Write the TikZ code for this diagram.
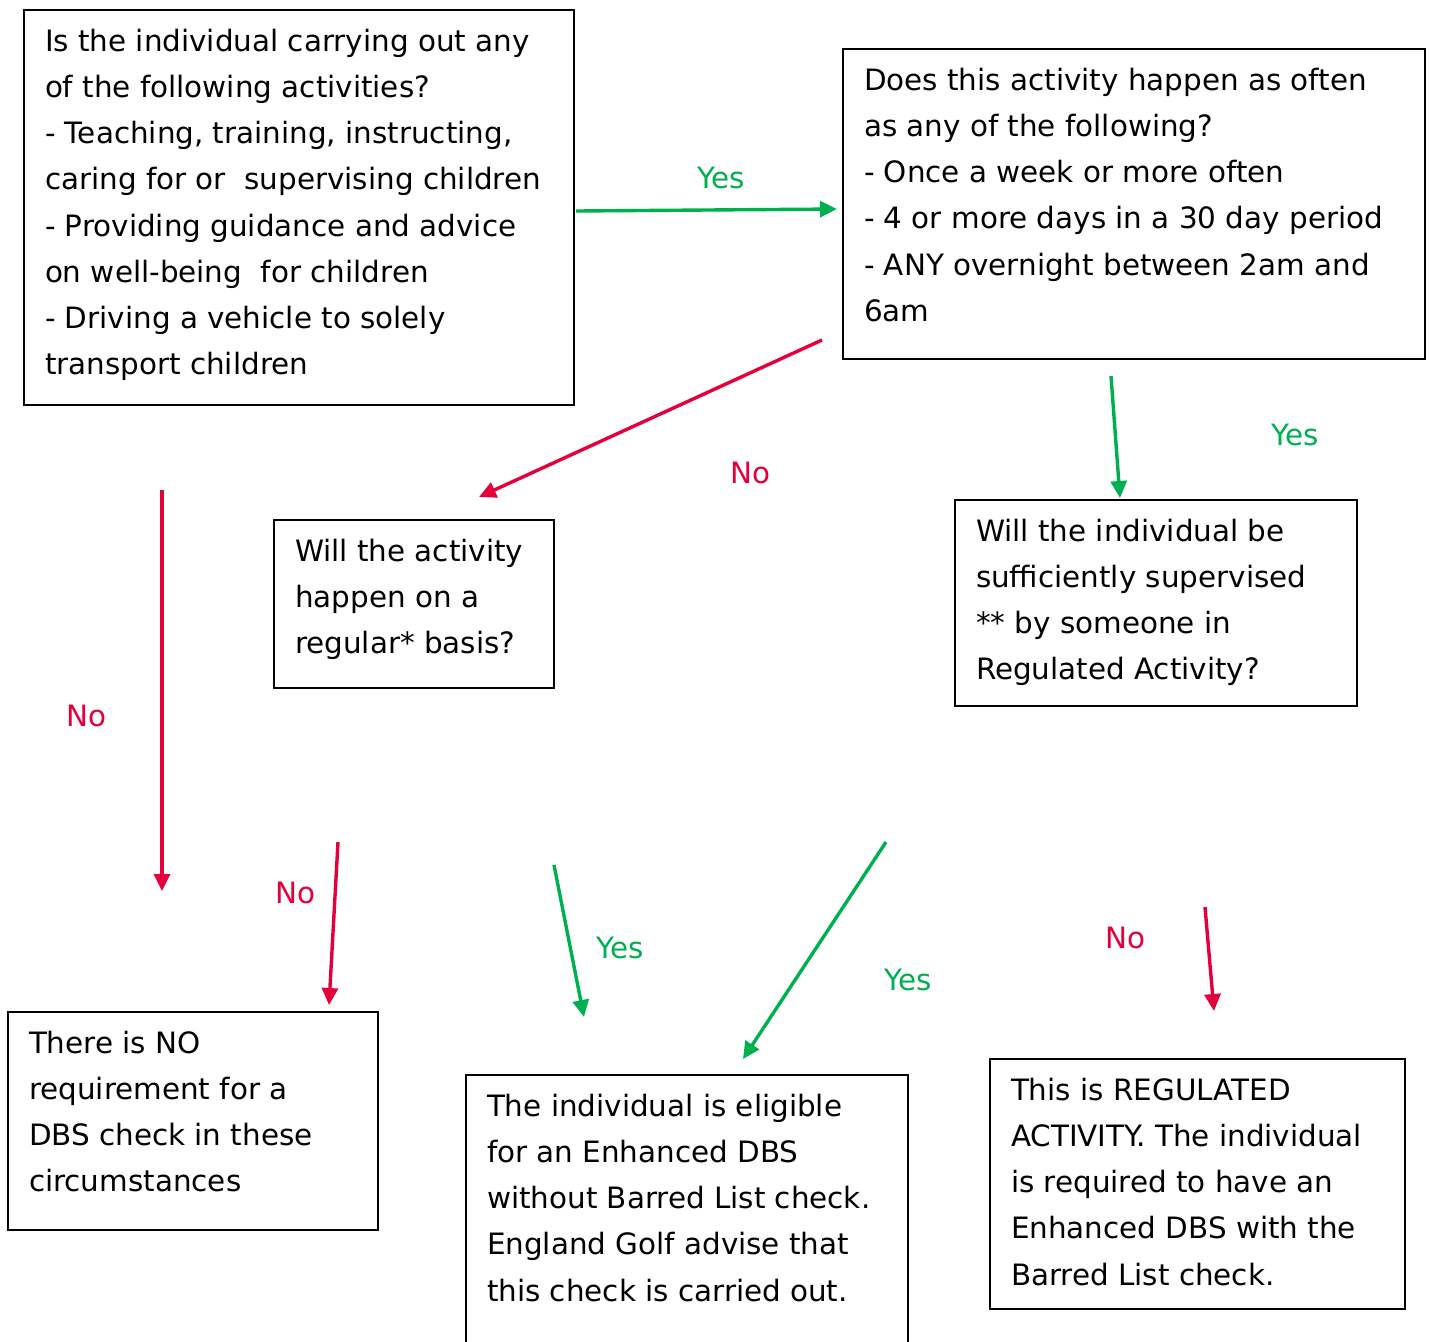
\documentclass[tikz,border=0pt]{standalone}
\usepackage{fontspec}
\setmainfont{DejaVu Sans}
\usetikzlibrary{arrows.meta}

\definecolor{yesgreen}{HTML}{00B050}
\definecolor{nored}{HTML}{E4003B}
\newcommand{\qfont}{\fontsize{14.7}{23.1}\selectfont}
% fixed size text block, text at the top
\newcommand{\qtext}[3]{\parbox[c][#2][t]{#1}{\raggedright #3}}

\begin{document}
\begin{tikzpicture}[x=0.5pt,y=-0.5pt,
        qbox/.style={draw, line width=1pt, anchor=north west, outer sep=0pt,
            inner xsep=10.5pt, inner ysep=9.5pt, font=\qfont},
        yesarrow/.style={-{Triangle[length=8.5pt,width=8pt]}, line width=1.7pt, yesgreen},
        noarrow/.style={-{Triangle[length=8.5pt,width=8pt]}, line width=1.7pt, nored},
        yeslabel/.style={text=yesgreen, font=\qfont},
        nolabel/.style={text=nored, font=\qfont}]
        \useasboundingbox (0,0) rectangle (1430,1341);
        \clip (0,0) rectangle (1430,1341);
        % activities
        \node[qbox] (activity) at (24,10) {\qtext{254pt}{178.5pt}{Is the individual carrying out any\\
            of the following activities?\\
            - Teaching, training, instructing,\\
            caring for or~ supervising children\\
            - Providing guidance and advice\\
            on well-being~ for children\\
            - Driving a vehicle to solely\\
            transport children}};
        % how often
        \node[qbox] (often) at (843,49) {\qtext{270pt}{136pt}{Does this activity happen as often\\
            as any of the following?\\
            - Once a week or more often\\
            - 4 or more days in a 30 day period\\
            - ANY overnight between 2am and\\
            6am}};
        % regular basis
        \node[qbox] (regular) at (274,520) {\qtext{119pt}{65pt}{Will the activity\\
            happen on a\\
            regular* basis?}};
        % supervised
        \node[qbox] (supervised) at (955,500) {\qtext{180pt}{84pt}{Will the individual be\\
            sufficiently supervised\\
            {}** by someone in\\
            Regulated Activity?}};
        % outcomes
        \node[qbox] (nocheck) at (8,1012) {\qtext{164pt}{90pt}{There is NO\\
            requirement for a\\
            DBS check in these\\
            circumstances}};
        \node[qbox] (eligible) at (466,1075) {\qtext{200pt}{123.5pt}{The individual is eligible\\
            for an Enhanced DBS\\
            without Barred List check.\\
            England Golf advise that\\
            this check is carried out.}};
        \node[qbox] (regulated) at (990,1059) {\qtext{186.5pt}{106pt}{This is REGULATED\\
            ACTIVITY. The individual\\
            is required to have an\\
            Enhanced DBS with the\\
            Barred List check.}};

        % arrow ends
        \coordinate (yes1a) at (576,211);  \coordinate (yes1b) at (837,209);
        \coordinate (no2a) at (822,340);   \coordinate (no2b) at (479,497);
        \coordinate (yes3a) at (1111,376); \coordinate (yes3b) at (1120,498);
        \coordinate (no4a) at (162,490);   \coordinate (no4b) at (162,891);
        \coordinate (no5a) at (338,842);   \coordinate (no5b) at (329,1005);
        \coordinate (yes6a) at (554,865);  \coordinate (yes6b) at (584,1017);
        \coordinate (yes7a) at (886,842);  \coordinate (yes7b) at (743,1059);
        \coordinate (no8a) at (1205,907);  \coordinate (no8b) at (1214,1011);

        % arrows
        \draw[yesarrow] (yes1a) -- (yes1b);
        \draw[noarrow] (no2a) -- (no2b);
        \draw[yesarrow] (yes3a) -- (yes3b);
        \draw[noarrow] (no4a) -- (no4b);
        \draw[noarrow] (no5a) -- (no5b);
        \draw[yesarrow] (yes6a) -- (yes6b);
        \draw[yesarrow] (yes7a) -- (yes7b);
        \draw[noarrow] (no8a) -- (no8b);

        % labels
        \node[yeslabel] (yes1) at (721,178) {Yes};
        \node[nolabel] (no2) at (750,473) {No};
        \node[yeslabel] (yes3) at (1295,435) {Yes};
        \node[nolabel] (no4) at (86,716) {No};
        \node[nolabel] (no5) at (295,893) {No};
        \node[yeslabel] (yes6) at (620,948) {Yes};
        \node[yeslabel] (yes7) at (908,980) {Yes};
        \node[nolabel] (no8) at (1125,938) {No};
    \end{tikzpicture}
\end{document}
